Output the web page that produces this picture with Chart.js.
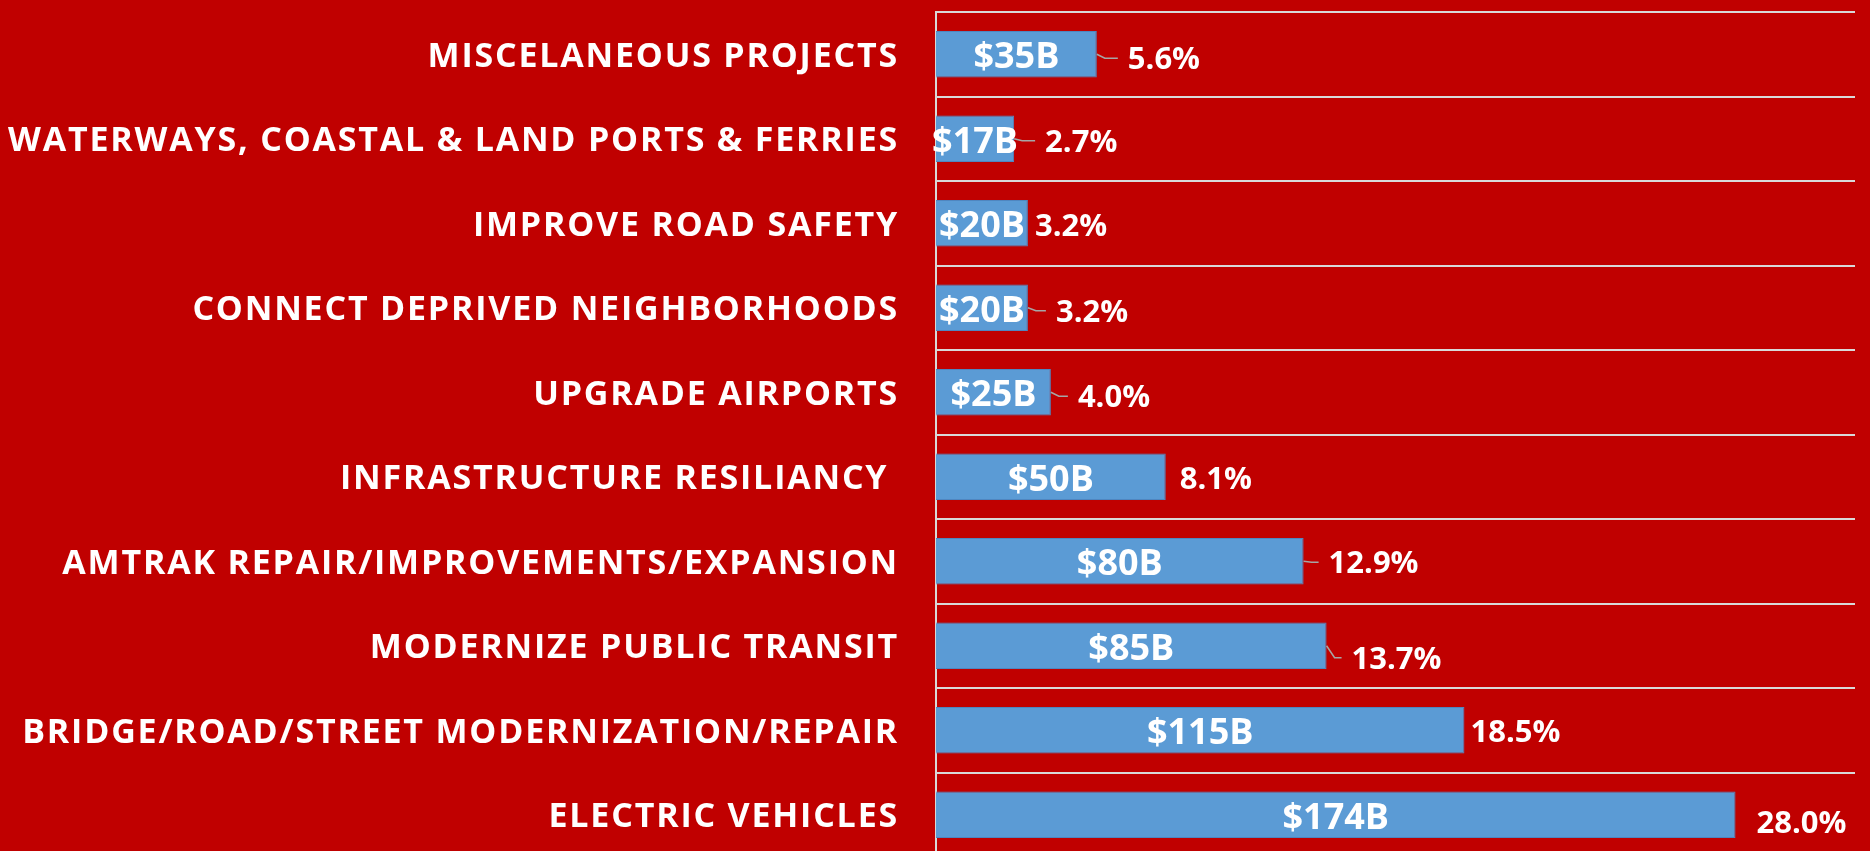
<!DOCTYPE html>
<html><head><meta charset="utf-8">
<script src="https://cdn.jsdelivr.net/npm/chart.js@4.4.0/dist/chart.umd.min.js"></script>
<style>
html,body{margin:0;padding:0;background:#C00000;overflow:hidden;width:1870px;height:851px;}
#wrap{position:absolute;left:0;top:0;width:1870px;height:857px;}
</style></head><body>
<div id="wrap"><canvas id="c"></canvas></div>
<script>
const categories = [
  'MISCELANEOUS PROJECTS',
  'WATERWAYS, COASTAL & LAND PORTS & FERRIES',
  'IMPROVE ROAD SAFETY',
  'CONNECT DEPRIVED NEIGHBORHOODS',
  'UPGRADE AIRPORTS',
  'INFRASTRUCTURE RESILIANCY ',
  'AMTRAK REPAIR/IMPROVEMENTS/EXPANSION',
  'MODERNIZE PUBLIC TRANSIT',
  'BRIDGE/ROAD/STREET MODERNIZATION/REPAIR',
  'ELECTRIC VEHICLES'
];
const values = [35, 17, 20, 20, 25, 50, 80, 85, 115, 174];
const shares = [5.6, 2.7, 3.2, 3.2, 4.0, 8.1, 12.9, 13.7, 18.5, 28.0];
const valueLabels = values.map(v => '$' + v + 'B');
const shareLabels = shares.map(s => s.toFixed(1) + '%');

// placement of the percentage labels (styling only)
const shareDx = [31, 31, 7, 28, 27, 14, 25, 25, 6, 21];
const shareDy = [4, 2, 2, 3, 4, 1, 1, 12, 1, 7];
const shareLeader = [true, true, false, true, true, false, true, true, false, false];

const FONT = '"Open Sans", "Noto Sans", sans-serif';
const CAP = 0.714;

const labelPlugin = {
  id: 'labels',
  beforeDraw(chart) { chart.ctx.letterSpacing = '1.8px'; },
  afterDraw(chart) {
    const ctx = chart.ctx;
    const meta = chart.getDatasetMeta(0);
    ctx.save();
    ctx.letterSpacing = '0px';
    ctx.fillStyle = '#ffffff';
    meta.data.forEach((bar, i) => {
      const cx = (bar.x + bar.base) / 2, cy = bar.y;
      ctx.font = 'bold 36px ' + FONT;
      ctx.textAlign = 'center';
      ctx.textBaseline = 'alphabetic';
      ctx.fillText(valueLabels[i], cx, cy + CAP * 36 / 2 + 1);
      const tx = bar.x + shareDx[i], ty = cy + shareDy[i];
      if (shareLeader[i]) {
        ctx.strokeStyle = '#a6a6a6';
        ctx.lineWidth = 1.5;
        ctx.beginPath();
        ctx.moveTo(bar.x, cy);
        ctx.lineTo(Math.min(bar.x + 8, tx - 10), ty);
        ctx.lineTo(tx - 10, ty);
        ctx.stroke();
      }
      ctx.font = 'bold 31px ' + FONT;
      ctx.textAlign = 'left';
      ctx.fillText(shareLabels[i], tx, ty + CAP * 31 / 2);
    });
    ctx.restore();
  }
};

new Chart(document.getElementById('c'), {
  type: 'bar',
  data: {
    labels: categories,
    datasets: [{
      data: values,
      backgroundColor: '#5B9BD5',
      borderColor: '#4F86C0',
      borderWidth: 1,
      categoryPercentage: 1,
      barPercentage: 0.553
    }]
  },
  options: {
    indexAxis: 'y',
    responsive: true,
    maintainAspectRatio: false,
    animation: false,
    layout: { padding: { top: 12, bottom: 0, left: 0, right: 15 } },
    plugins: { legend: { display: false }, tooltip: { enabled: false } },
    scales: {
      x: { display: false, min: 0, max: 200 },
      y: {
        z: 1,
        afterFit(scale) { scale.width = 936; scale.paddingTop = 0; scale.paddingBottom = 0; },
        grid: { color: '#d9d9d9', lineWidth: 2, drawTicks: false, offset: true },
        border: { display: true, color: '#d9d9d9', width: 2 },
        ticks: {
          color: '#ffffff',
          padding: 37,
          labelOffset: 3,
          autoSkip: false,
          font: { family: FONT, weight: 'bold', size: 34 }
        }
      }
    }
  },
  plugins: [labelPlugin]
});
</script>
</body></html>
